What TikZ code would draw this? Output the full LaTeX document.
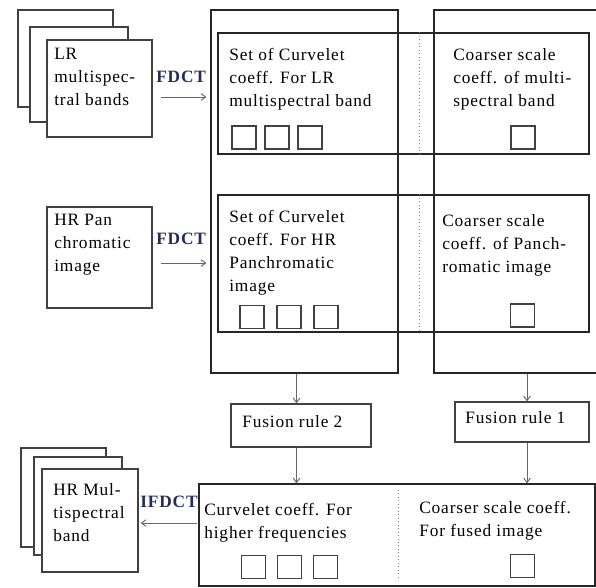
\documentclass[tikz,border=0pt]{standalone}
\usepackage{fontspec}
\setmainfont{Liberation Serif}[LetterSpace=5]
\usetikzlibrary{arrows.meta,calc,fit}
\definecolor{tagblue}{RGB}{35,45,90}
\definecolor{edge}{RGB}{65,65,65}

\begin{document}
\begin{tikzpicture}[x=0.75pt, y=-0.75pt,
  every node/.style={font=\fontsize{13}{17.25}\selectfont},
  box/.style={draw=edge, line width=0.9pt, fill=white, inner sep=0pt},
  panel/.style={draw=black!85, line width=0.8pt, inner sep=0pt},
  sq/.style={draw=edge, line width=1pt, minimum width=18pt, minimum height=17.25pt, inner sep=0pt},
  txt/.style={anchor=north west, align=left, inner sep=0pt},
  tag/.style={anchor=base west, inner sep=0pt, font=\fontsize{13}{15}\selectfont\bfseries, text=tagblue},
  arr/.style={draw=black!60, line width=0.7pt, -{Straight Barb[length=3.5pt,width=5pt]}},
  divider/.style={draw=black!50, dotted, line width=0.6pt}]
\useasboundingbox (0,0) rectangle (596,587);
\clip (0,0) rectangle (596,587);
% input stacks
\node[box, fit={(18,10) (113,107)}] (lrC) {};
\node[box, fit={(30,27) (128,122)}] (lrB) {};
\node[box, fit={(47,40) (152,137)}] (lr) {};
\node[box, fit={(47,207) (152,308)}] (pan) {};
\node[txt] (lrtext) at (54,48) {LR\\multispec-\\tral bands};
\node[txt] (pantext) at (54,214) {HR Pan\\chromatic\\image};
% transform panels
\node[panel, fit={(211,10) (398,373)}] (bigL) {};
\node[panel, fit={(434,10) (620,373)}] (bigR) {};
\node[panel, fit={(218,33) (589,154)}] (in1) {};
\node[panel, fit={(218,195) (589,332)}] (in2) {};
\draw[divider] (419,0 |- in1.north) -- (419,0 |- in1.south);
\draw[divider] (419,0 |- in2.north) -- (419,0 |- in2.south);
\node[txt] (c1text) at (229,48) {Set of Curvelet\\coeff. For LR\\multispectral band};
\node[txt] (k1text) at (453,48) {Coarser scale\\coeff. of multi-\\spectral band};
\node[txt] (c2text) at (229,210) {Set of Curvelet\\coeff. For HR\\Panchromatic\\image};
\node[txt] (k2text) at (442,214) {Coarser scale\\coeff. of Panch-\\romatic image};
\foreach \i in {0,1,2} \node[sq] (s1\i) at (244+33*\i,137.5) {};
\node[sq] (s1r) at (523,137.5) {};
\foreach \i in {0,1,2} \node[sq] (s2\i) at (252+37*\i,317) {};
\node[sq] (s2r) at (522.5,315.5) {};
\node[tag] (fdct1) at (156,82) {FDCT};
\node[tag] (fdct2) at (156,244) {FDCT};
\draw[arr] ($(lr.east)+(8,8.5)$) -- ($(lr.east -| bigL.west)+(-4,8.5)$);
\draw[arr] ($(pan.east)+(8,5.5)$) -- ($(pan.east -| bigL.west)+(-4,5.5)$);
% fusion rules
\node[box, fit={(231,404) (371,447)}] (fr2) {};
\node[box, fit={(455,402) (589,442)}] (fr1) {};
\node[anchor=base west, inner sep=0pt] (f2text) at (242,427) {Fusion rule 2};
\node[anchor=base west, inner sep=0pt] (f1text) at (465,423) {Fusion rule 1};
\draw[arr] ($(bigL.south -| fr2.north)+(-4.5,0)$) -- ($(fr2.north)+(-4.5,0)$);
\draw[arr] ($(bigR.south -| fr1.north)+(5,0)$) -- ($(fr1.north)+(5,0)$);
% fused output
\node[panel, fit={(199,484) (595,586)}] (out) {};
\draw[divider] (398,490) -- (398,580);
\node[txt] (otext) at (204,503) {Curvelet coeff. For\\higher frequencies};
\node[txt] (oktext) at (419,501) {Coarser scale coeff.\\For fused image};
\foreach \i in {0,1,2} \node[sq] (s3\i) at (253.5+36*\i,567) {};
\node[sq] (s3r) at (522.5,566) {};
\draw[arr] ($(fr2.south)+(-4.5,0)$) -- ($(fr2.south |- out.north)+(-4.5,0)$);
\draw[arr] ($(fr1.south)+(5,0)$) -- ($(fr1.south |- out.north)+(5,0)$);
\node[box, fit={(21,448) (106,547)}] (hrC) {};
\node[box, fit={(34,457) (122,555)}] (hrB) {};
\node[box, fit={(42,469) (138,572)}] (hr) {};
\node[txt] (hrtext) at (53,483) {HR Mul-\\tispectral\\band};
\node[tag] (ifdct) at (140,507) {IFDCT};
\draw[arr] ($(out.west)+(-1,-12)$) -- ($(hr.east)+(2,2.5)$);
\end{tikzpicture}
\end{document}
